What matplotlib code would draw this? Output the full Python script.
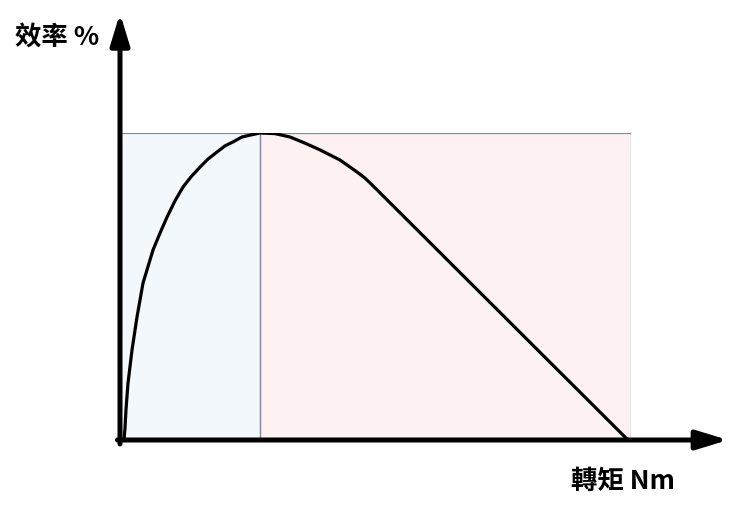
import matplotlib.pyplot as plt

plt.rcParams['font.family'] = ['Noto Sans CJK TC', 'DejaVu Sans']

# efficiency curve (torque in % of max, efficiency in % of peak)
torque = [0.78, 0.98, 1.17, 1.37, 1.57, 2.35, 3.33, 4.50, 6.46, 7.83, 9.20, 10.76,
          12.33, 13.89, 15.66, 17.22, 18.98, 20.55, 22.11, 23.87, 25.44, 27.40,
          30.33, 33.27, 36.20, 39.14, 43.05, 46.38, 47.95, 49.32, 99.41]
efficiency = [0, 3.9, 9.8, 14.3, 18.6, 29.3, 40.1, 51.1, 61.9, 67.4, 72.6, 77.9,
              82.4, 85.7, 88.9, 91.5, 93.8, 95.8, 97.1, 98.7, 99.3, 100,
              99.8, 98.7, 96.7, 94.5, 91.2, 87.3, 85.3, 83.1, 0]

# shaded zones: rising part and falling part
zone_edges = [0, 27.4, 100]
zone_colors = ['#f3f8fc', '#fdf1f1']
eff_max = 100

fig = plt.figure(figsize=(7.4, 5.09), dpi=100)
ax = fig.add_axes([120 / 740, 69 / 509, 511 / 740, 307 / 509])
ax.set_xlim(0, 100)
ax.set_ylim(0, 100)
ax.axis('off')

for i in range(len(zone_colors)):
    x0, x1 = zone_edges[i], zone_edges[i + 1]
    ax.fill_between([x0, x1], 0, eff_max, color=zone_colors[i], lw=0, zorder=1)
    ax.plot([x0, x0, x1, x1], [0, eff_max, eff_max, 0], color='#7f8aa6', lw=0.9, zorder=2)

ax.plot(torque, efficiency, color='black', lw=2.3, zorder=3,
        solid_capstyle='round', solid_joinstyle='round')

# axis arrows
arrow = dict(arrowstyle='-|>,head_length=19,head_width=5.8', mutation_scale=1,
             color='black', lw=3.6, shrinkA=0, shrinkB=0)
ax.annotate('', xy=(0, 139), xytext=(0, -1.3), arrowprops=arrow,
            annotation_clip=False, zorder=4)
ax.annotate('', xy=(119, 0), xytext=(-0.5, 0), arrowprops=arrow,
            annotation_clip=False, zorder=4)

fig.text(15 / 740, 1 - 38 / 509, '效率 %', fontsize=19, fontweight='bold',
         va='center', ha='left')
fig.text(571 / 740, 1 - 481 / 509, '轉矩 Nm', fontsize=19, fontweight='bold',
         va='center', ha='left')

fig.savefig('out.png', dpi=100, facecolor='white')
